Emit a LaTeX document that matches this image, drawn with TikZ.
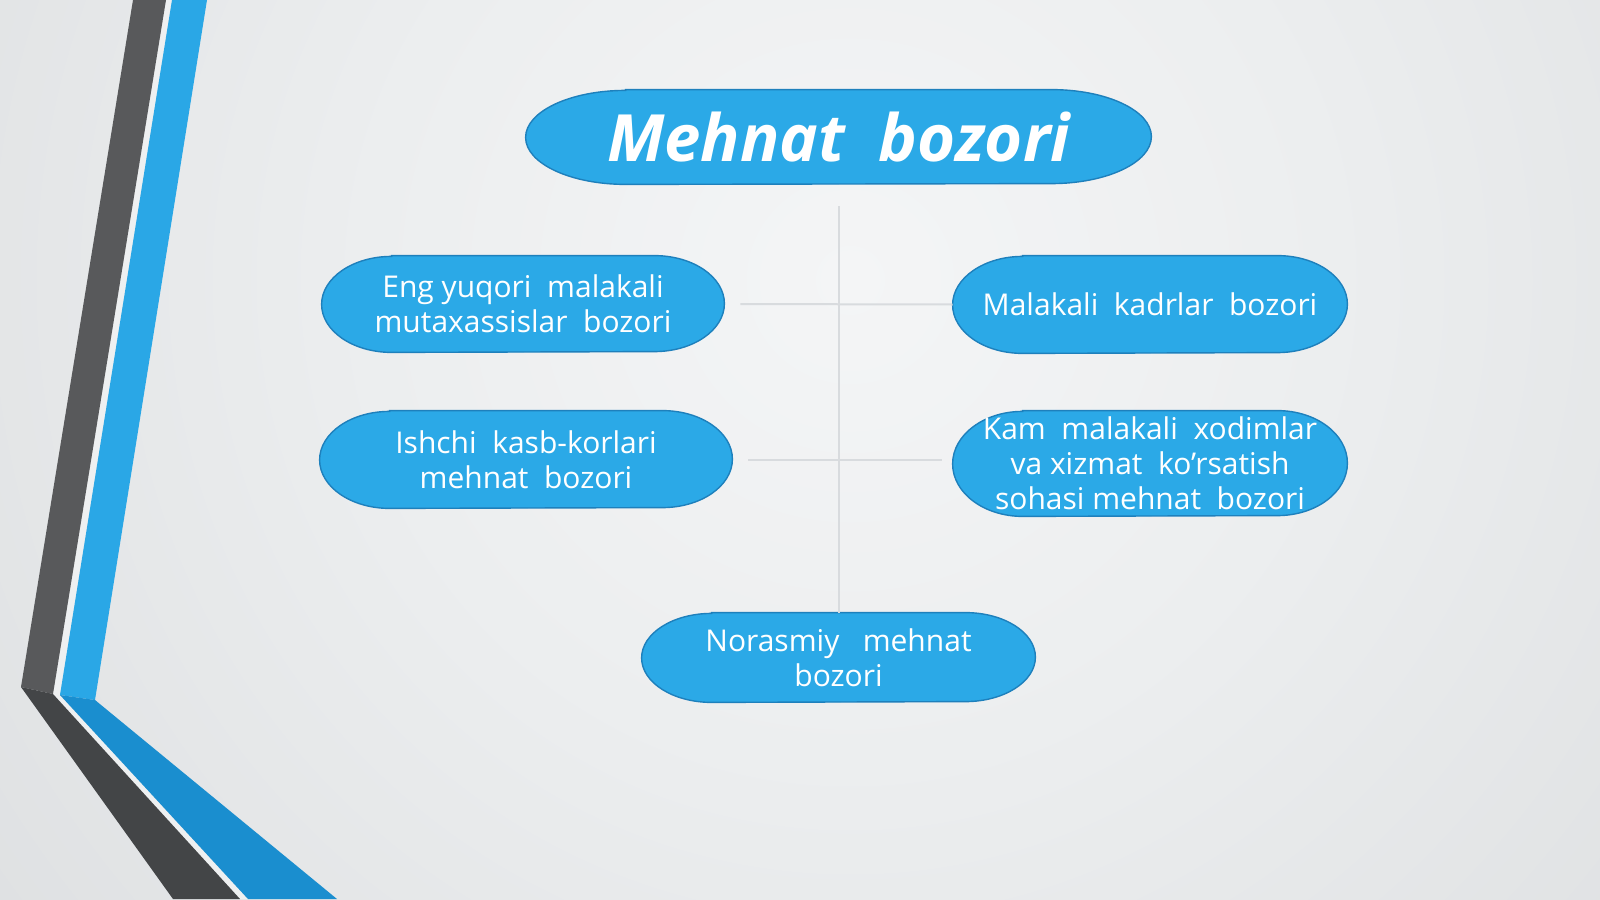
\documentclass[tikz,border=0pt]{standalone}
\usepackage{fontspec}
\setmainfont{Open Sans}
\pgfdeclarelayer{bg}
\pgfdeclarelayer{pills}
\pgfsetlayers{bg,pills,main}
\definecolor{pillblue}{HTML}{2BA9E7}
\definecolor{pillline}{HTML}{1E80BC}
\definecolor{bgin}{HTML}{F4F5F6}
\definecolor{bgmid}{HTML}{ECEEEF}
\definecolor{bgmidb}{HTML}{D6D8DA}
\definecolor{bgout}{HTML}{C2C4C6}
\definecolor{darkv}{HTML}{58595B}
\definecolor{darkd}{HTML}{434547}
\definecolor{bluev}{HTML}{2AA7E6}
\definecolor{blued}{HTML}{1A8ECF}
\definecolor{gapc}{HTML}{EEF0F1}
\definecolor{connc}{HTML}{D8DBDE}
\pgfdeclareradialshading{bgshade}{\pgfpoint{0bp}{0bp}}{color(0bp)=(bgin); color(11bp)=(bgmid); color(33bp)=(bgmidb); color(46bp)=(bgout); color(50bp)=(bgout)}
\newcommand\pillshape[3]{%
  \begin{pgfonlayer}{pills}
  \path[pillstyle] ([xshift=#2]#1.north west) -- ([xshift=-#2]#1.north east)
     arc[start angle=90,end angle=-90,x radius=#2,y radius=#3]
     -- ([xshift=#2]#1.south west)
     arc[start angle=270,end angle=90,x radius=#2,y radius=#3] -- cycle;
  \end{pgfonlayer}}
\tikzset{
  pillstyle/.style={fill=pillblue, draw=pillline, line width=0.7pt},
  pilltext/.style={inner sep=0pt, text=white, align=center,
    font=\fontsize{15}{17.5}\selectfont},
  titletext/.style={inner sep=0pt, text=white, align=center,
    font=\fontsize{32.6}{40}\selectfont\bfseries\itshape},
  conn/.style={draw=connc, line width=1pt},
}
\begin{document}
\begin{tikzpicture}[x=0.5pt,y=-0.5pt]
\useasboundingbox (0,0) rectangle (1600,899);
\begin{pgfonlayer}{bg}
  \fill[bgout] (0,0) rectangle (1600,899);
  \begin{scope}
    \clip (0,0) rectangle (1600,899);
    \shade[shading=bgshade] (850,280) circle (550pt);
  \end{scope}
\end{pgfonlayer}
% left decoration
\fill[gapc] (166,0) -- (172,0) -- (60,695) -- (248,899) -- (240,899) -- (53,694) -- cycle;
\fill[darkv] (133,0) -- (166,0) -- (53,694) -- (21,687) -- cycle;
\fill[darkd] (21,687) -- (53,694) -- (240,899) -- (173,899) -- cycle;
\fill[bluev] (172,0) -- (207,0) -- (95,700) -- (60,695) -- cycle;
\fill[blued] (60,695) -- (95,700) -- (337,899) -- (248,899) -- cycle;
% nodes
\node[titletext, minimum width=312.5pt, minimum height=47pt] (title) at (838.5,137) {Mehnat\ \ bozori};
\pillshape{title}{50pt}{23.5pt}
\node[pilltext, minimum width=201pt, minimum height=48pt] (n1) at (523,304) {Eng yuqori\ \ malakali\\mutaxassislar\ \ bozori};
\pillshape{n1}{35pt}{24pt}
\node[pilltext, minimum width=197pt, minimum height=48.5pt] (n2) at (1150,304.5) {Malakali\ \ kadrlar\ \ bozori};
\pillshape{n2}{35pt}{24.25pt}
\node[pilltext, minimum width=206pt, minimum height=48.5pt] (n3) at (526,459.5) {Ishchi\ \ kasb-korlari\\mehnat\ \ bozori};
\pillshape{n3}{35pt}{24.25pt}
\node[pilltext, minimum width=197pt, minimum height=52.5pt] (n4) at (1150,463.5) {Kam\ \ malakali\ \ xodimlar\\va xizmat\ \ ko’rsatish\\sohasi mehnat\ \ bozori};
\pillshape{n4}{35pt}{26.25pt}
\node[pilltext, minimum width=196.5pt, minimum height=44.5pt] (n5) at (838.5,657.5) {Norasmiy\ \ \ mehnat\\bozori};
\pillshape{n5}{35pt}{22.25pt}
% connectors
\draw[conn, shorten <=11pt] (title) -- (n5);
\draw[conn, shorten <=8pt] (n1.east) -- (n2.west);
\draw[conn, shorten <=8pt, shorten >=5.5pt] (n3.east) -- (n3.east -| n4.west);
\end{tikzpicture}
\end{document}
